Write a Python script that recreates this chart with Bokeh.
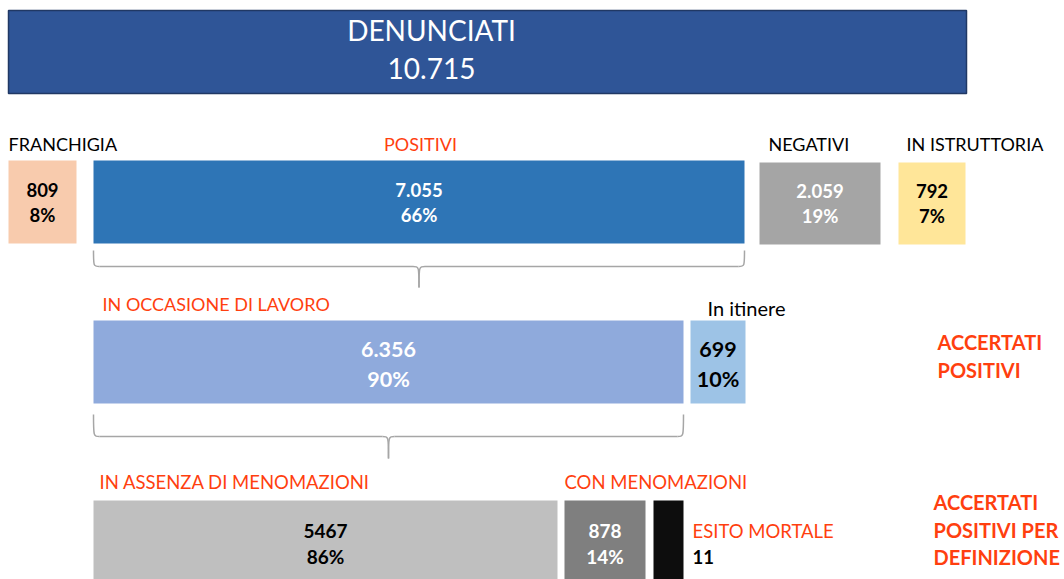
from bokeh.plotting import figure
from bokeh.models import Range1d, ColumnDataSource
from bokeh.core.properties import value
from bokeh.embed import file_html
from bokeh.resources import INLINE

# ---------------- data ----------------
top_label = "DENUNCIATI"
top_value = "10.715"

row1_labels = ["FRANCHIGIA", "POSITIVI", "NEGATIVI", "IN ISTRUTTORIA"]
row1_values = ["809", "7.055", "2.059", "792"]
row1_pcts = ["8%", "66%", "19%", "7%"]

row2_labels = ["IN OCCASIONE DI LAVORO", "In itinere"]
row2_values = ["6.356", "699"]
row2_pcts = ["90%", "10%"]

row3_labels = ["IN ASSENZA DI MENOMAZIONI", "CON MENOMAZIONI", "ESITO MORTALE"]
row3_values = ["5467", "878", "11"]
row3_pcts = ["86%", "14%", ""]

side_labels = [["ACCERTATI", "POSITIVI"], ["ACCERTATI", "POSITIVI PER", "DEFINIZIONE"]]

# ---------------- layout (reference pixel space) ----------------
FONT = value("Lato")
RED = "#FF3F0F"
W, H = 1064, 579

row1_box = dict(x0=[8, 93, 759, 898], x1=[76, 744, 880, 965], y0=[160, 160, 162, 162], y1=[243, 243, 244, 244],
                fill=["#F8CBAD", "#2E75B6", "#A5A5A5", "#FFE699"],
                txt=["#000000", "#FFFFFF", "#FFFFFF", "#000000"])
row1_lab = dict(x=[8, 420, 768, 906], align=["left", "center", "left", "left"],
                color=["#000000", RED, "#000000", "#000000"], y=143)
row2_box = dict(x0=[93, 690], x1=[683, 745], y0=[320, 320], y1=[403, 403],
                fill=["#8FAADC", "#9DC3E6"], txt=["#FFFFFF", "#000000"])
row2_lab = dict(x=[102, 707], align=["left", "left"], color=[RED, "#000000"], y=[303, 307],
                size=["18px", "20px"])
row3_box = dict(x0=[93, 564, 653], x1=[557, 645, 683], y0=[500, 500, 500], y1=[579, 579, 579],
                fill=["#BFBFBF", "#7F7F7F", "#0D0D0D"], txt=["#000000", "#FFFFFF", "#000000"])
row3_lab = dict(x=[99, 564], color=[RED, RED], y=481)

p = figure(width=W, height=H, x_range=Range1d(0, W), y_range=Range1d(H, 0),
           output_backend="svg", toolbar_location=None, min_border=0)
p.axis.visible = False
p.grid.visible = False
p.outline_line_color = None
p.background_fill_color = "white"

# top box
p.quad(left=[8], right=[966], top=[10], bottom=[93], fill_color="#2F5597", line_color="#203864", line_width=1.5)
p.text(x=[431], y=[29], text=[top_label], text_font=FONT, text_font_size="28px", text_color="white",
       text_align="center", text_baseline="middle")
p.text(x=[431], y=[68], text=[top_value], text_font=FONT, text_font_size="28px", text_color="white",
       text_align="center", text_baseline="middle")


def draw_boxes(box, values, pcts, size, dy, shift=0):
    src = ColumnDataSource(dict(l=box["x0"], r=box["x1"], t=box["y0"], b=box["y1"], f=box["fill"]))
    p.quad(left="l", right="r", top="t", bottom="b", fill_color="f", line_color=None, source=src)
    cx = [(a + b) / 2 for a, b in zip(box["x0"], box["x1"])]
    cy = [(a + b) / 2 + shift for a, b in zip(box["y0"], box["y1"])]
    n = len(values)
    p.text(x=cx[:n], y=[c - dy for c in cy[:n]], text=values, text_color=box["txt"][:n], text_font=FONT,
           text_font_size=size, text_font_style="bold", text_align="center", text_baseline="middle")
    p.text(x=cx[:n], y=[c + dy for c in cy[:n]], text=pcts, text_color=box["txt"][:n], text_font=FONT,
           text_font_size=size, text_font_style="bold", text_align="center", text_baseline="middle")


# row 1
draw_boxes(row1_box, row1_values, row1_pcts, "18.5px", 12.5)
for i, lab in enumerate(row1_labels):
    p.text(x=[row1_lab["x"][i]], y=[row1_lab["y"]], text=[lab], text_font=FONT, text_font_size="18px",
           text_color=row1_lab["color"][i], text_align=row1_lab["align"][i], text_baseline="middle")

# row 2
draw_boxes(row2_box, row2_values, row2_pcts, "21.5px", 14.5, shift=2)
for i, lab in enumerate(row2_labels):
    p.text(x=[row2_lab["x"][i]], y=[row2_lab["y"][i]], text=[lab], text_font=FONT,
           text_font_size=row2_lab["size"][i],
           text_color=row2_lab["color"][i], text_align="left", text_baseline="middle")

# row 3 (first two boxes have centred values, third has outside label)
draw_boxes(row3_box, row3_values[:2], row3_pcts[:2], "19px", 13, shift=3.5)
for i, lab in enumerate(row3_labels[:2]):
    p.text(x=[row3_lab["x"][i]], y=[row3_lab["y"]], text=[lab], text_font=FONT, text_font_size="18.5px",
           text_color=row3_lab["color"][i], text_align="left", text_baseline="middle")
p.text(x=[692], y=[530], text=[row3_labels[2]], text_font=FONT, text_font_size="18.5px", text_color=RED,
       text_align="left", text_baseline="middle")
p.text(x=[692], y=[556], text=[row3_values[2]], text_font=FONT, text_font_size="18.5px", text_color="black",
       text_font_style="bold", text_align="left", text_baseline="middle")

# side labels
for ys, lines in zip([[341, 369], [501, 529, 556]], side_labels):
    xs = 937 if len(lines) == 2 else 933
    p.text(x=[xs] * len(lines), y=ys, text=lines, text_font=FONT, text_font_size="20px", text_color=RED,
           text_font_style="bold", text_align="left", text_baseline="middle")


# braces
def brace(xl, xr, yt, ym, yb):
    xm = (xl + xr) / 2
    r = 6
    bz = dict(x0=[xl, xm - r, xr, xm + r], y0=[yt, ym, yt, ym],
              x1=[xl + r, xm, xr - r, xm], y1=[ym, yb, ym, yb],
              cx0=[xl, xm, xr, xm], cy0=[ym, ym, ym, ym],
              cx1=[xl, xm, xr, xm], cy1=[ym, ym, ym, ym])
    p.bezier(source=ColumnDataSource(bz), x0="x0", y0="y0", x1="x1", y1="y1", cx0="cx0", cy0="cy0",
             cx1="cx1", cy1="cy1", line_color="#A6A6A6", line_width=1.5)
    p.segment(x0=[xl + r, xm + r], y0=[ym, ym], x1=[xm - r, xr - r], y1=[ym, ym], line_color="#A6A6A6",
              line_width=1.5)


brace(93, 744, 250, 266, 287)
brace(93, 683, 414, 436, 458)

open("out.html", "w").write(file_html(p, INLINE))
